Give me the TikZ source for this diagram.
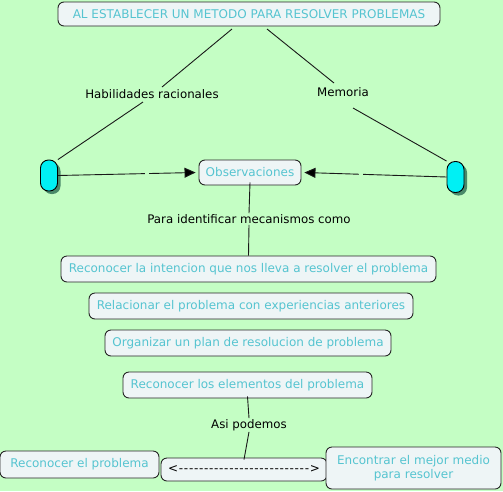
\documentclass[tikz,border=0pt]{standalone}
\usepackage{fontspec}
\setmainfont{DejaVu Sans}[Ligatures=TeXOff]
\usetikzlibrary{arrows.meta,shadows}
\definecolor{bg}{HTML}{C4FEC4}
\definecolor{txt}{HTML}{55C4D0}
\definecolor{boxfill}{HTML}{EEF5F6}
\definecolor{caps}{HTML}{00F0F4}
\definecolor{shad}{HTML}{4A8A6A}
\newcommand{\dk}{-\kern0.7pt}
\newcommand{\dkv}{\dk\dk\dk\dk\dk}
\tikzset{
  concept/.style={draw=black!85, fill=boxfill, rounded corners=6pt, text=txt, font=\fontsize{12}{14}\selectfont, inner sep=0pt, line width=0.9pt, align=center},
  lab/.style={text=black, font=\fontsize{11.8}{14}\selectfont, inner sep=1pt},
  capsule/.style={draw=black, fill=caps, rounded corners=8pt, minimum width=17pt, minimum height=31pt, inner sep=0pt, line width=0.9pt, drop shadow={shadow xshift=3pt, shadow yshift=-3pt, fill=shad, opacity=1}},
  conn/.style={draw=black!90, line width=0.9pt},
  tip/.style={-{Triangle[length=11pt,width=10pt,fill=black]}},
  gap/.style={fill=bg, inner sep=0pt, minimum width=4pt, minimum height=3pt}
}
\begin{document}
\begin{tikzpicture}[x=1pt,y=-1pt]
\fill[bg] (0,0) rectangle (503,491);
\useasboundingbox (0,0) rectangle (503,491);
% nodes
\node[concept, minimum width=382pt, minimum height=24pt] (top) at (249,14) {AL ESTABLECER UN METODO PARA RESOLVER PROBLEMAS};
\node[lab] (hab) at (152,94) {Habilidades racionales};
\node[lab] (mem) at (343,92) {Memoria};
\node[capsule] (cl) at (49,175.5) {};
\node[capsule] (cr) at (455.5,177) {};
\node[concept, minimum width=102pt, minimum height=25pt] (obs) at (250,172.5) {Observaciones};
\node[lab] (para) at (249,219) {Para identificar mecanismos como};
\node[concept, minimum width=375pt, minimum height=26pt] (r1) at (248.5,269) {Reconocer la intencion que nos lleva a resolver el problema};
\node[concept, minimum width=324pt, minimum height=26pt] (r2) at (251,306) {Relacionar el problema con experiencias anteriores};
\node[concept, minimum width=286pt, minimum height=26pt] (r3) at (248,343) {Organizar un plan de resolucion de problema};
\node[concept, minimum width=249pt, minimum height=26pt] (r4) at (247.5,385) {Reconocer los elementos del problema};
\node[lab] (asi) at (249,425) {Asi podemos};
\node[concept, minimum width=166pt, minimum height=23pt, text=black] (mid) at (244,469.5) {<\kern0.7pt\dkv\dkv\dkv\dkv\dkv\dk>};
\node[concept, minimum width=159pt, minimum height=27pt] (rp) at (79.5,464.5) {Reconocer el problema};
\node[concept, minimum width=175pt, minimum height=42pt] (enc) at (413.5,468) {Encontrar el mejor medio\\para resolver};
% connector end points near labels
\coordinate (habT) at (162,87);
\coordinate (habB) at (143,102);
\coordinate (memT) at (334,83);
\coordinate (memB) at (353,108);
% connectors
\draw[conn] (232,29) -- (habT);
\draw[conn] (habB) -- (cl.north east);
\draw[conn] (267,29) -- (memT);
\draw[conn] (memB) -- (cr.north west);
\draw[conn, tip] (cl.east) -- node[gap, pos=0.65]{} ([xshift=-3pt]obs.west);
\draw[conn, tip] (cr.west) -- node[gap, pos=0.6]{} ([xshift=3pt]obs.east);
\draw[conn] ([yshift=3pt]obs.south) -- (para.north);
\draw[conn] (para.south) -- (r1.north);
\draw[conn] ([yshift=2pt]r4.south) -- (asi.north);
\draw[conn] (asi.south) -- ([yshift=-2pt]mid.north);
\end{tikzpicture}
\end{document}
